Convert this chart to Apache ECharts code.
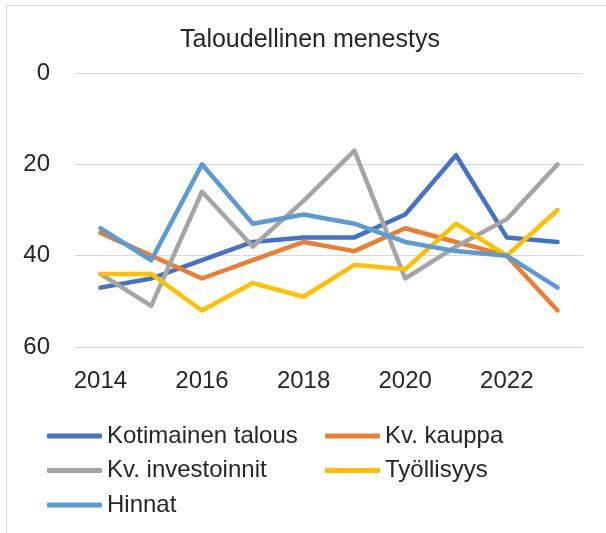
<!DOCTYPE html>
<html>
<head>
<meta charset="utf-8">
<script src="https://cdn.jsdelivr.net/npm/echarts@6/dist/echarts.min.js"></script>
<style>
  body { margin: 0; background: #fff; }
  #chart { width: 606px; height: 533px; position: relative; }
  #frame { position: absolute; left: 6px; top: 5px; right: 0; bottom: 0;
           border-left: 1px solid #d9d9d9; border-top: 1px solid #d9d9d9; pointer-events: none; }
</style>
</head>
<body>
<div id="chart"></div>
<div id="frame"></div>
<script>
var years = ['2014','2015','2016','2017','2018','2019','2020','2021','2022','2023'];
var kotimainen = [47,45,41,37,36,36,31,18,36,37];
var kauppa = [35,40,45,41,37,39,34,37,40,52];
var investoinnit = [44,51,26,38,28,17,45,38,32,20];
var tyollisyys = [44,44,52,46,49,42,43,33,40,30];
var hinnat = [34,41,20,33,31,33,37,39,40,47];

var names = ['Kotimainen talous','Kv. kauppa','Kv. investoinnit','Työllisyys','Hinnat'];
var colors = ['#4472C4','#ED7D31','#A5A5A5','#FFC000','#5B9BD5'];
var values = [kotimainen, kauppa, investoinnit, tyollisyys, hinnat];

var font = 'Liberation Sans';
var txt = '#262626';

var myChart = echarts.init(document.getElementById('chart'));

// two legend columns so the items line up like the original
function mkLegend(left, data) {
    return {
        orient: 'vertical',
        left: left,
        top: 424,
        padding: 0,
        itemWidth: 55,
        itemHeight: 5,
        itemGap: 10.5,
        icon: 'roundRect',
        data: data,
        textStyle: { fontFamily: font, fontSize: 24, color: txt, lineHeight: 24 }
    };
}

var option = {
    backgroundColor: '#fff',
    animation: false,
    color: colors,
    title: {
        text: 'Taloudellinen menestys',
        left: 180,
        top: 28,
        padding: 0,
        textStyle: { fontFamily: font, fontSize: 25, fontWeight: 'normal', color: txt }
    },
    legend: [
        mkLegend(47, [names[0], names[2], names[4]]),
        mkLegend(325, [names[1], names[3]])
    ],
    grid: { left: 75, right: 23, top: 73, bottom: 186 },
    xAxis: {
        type: 'category',
        data: years,
        boundaryGap: true,
        axisLine: { show: false },
        axisTick: { show: false },
        axisLabel: { interval: 1, margin: 22, fontFamily: font, fontSize: 24, color: txt }
    },
    yAxis: {
        type: 'value',
        inverse: true,
        min: 0,
        max: 60,
        interval: 20,
        axisLabel: { margin: 25, fontFamily: font, fontSize: 24, color: txt },
        splitLine: { lineStyle: { color: '#d9d9d9', width: 1 } }
    },
    series: names.map(function (n, i) {
        return {
            name: n,
            type: 'line',
            data: values[i],
            symbol: 'none',
            lineStyle: { width: 4.5, cap: 'round', join: 'round' }
        };
    })
};

myChart.setOption(option);
</script>
</body>
</html>
